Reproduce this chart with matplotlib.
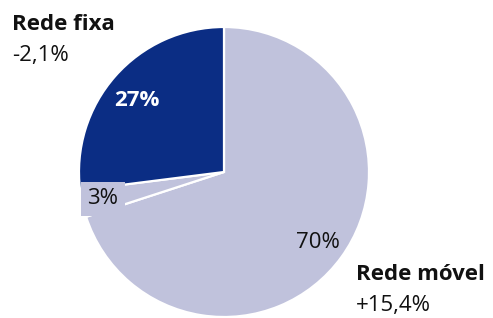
import matplotlib
matplotlib.use("Agg")
import matplotlib.pyplot as plt

shares = [70, 3, 27]
labels = ["70%", "3%", "27%"]
colors = ["#C0C2DC", "#C0C2DC", "#0B2D84"]
cat_fixa = ["Rede fixa", "-2,1%"]
cat_movel = ["Rede móvel", "+15,4%"]

plt.rcParams['font.family'] = ['Open Sans', 'DejaVu Sans']

fig = plt.figure(figsize=(4.93, 3.18), dpi=100)
ax = fig.add_axes([0, 0, 1, 1])
H = 318
cx, cy, r = 224, H - 172, 145
wedges, _ = ax.pie(shares, center=(cx, cy), radius=r, startangle=90,
                   counterclock=False, explode=[0, 0, 0.015], colors=colors,
                   wedgeprops=dict(edgecolor="white", linewidth=1.6))
ax.set_xlim(0, 493)
ax.set_ylim(0, H)
ax.set_aspect('auto')
ax.axis('off')

fs = 16
ax.text(318, H - 242, labels[0], fontsize=fs, color="#111111", ha="center", va="center")
ax.text(103, H - 199, labels[1], fontsize=fs, color="#111111", ha="center", va="center",
        bbox=dict(boxstyle="square,pad=0.3", facecolor=colors[1], edgecolor="none"))
ax.text(137, H - 100, labels[2], fontsize=fs, color="white", fontweight="bold",
        ha="center", va="center")

ax.text(12, H - 25, cat_fixa[0], fontsize=fs, fontweight="bold", color="#111111",
        ha="left", va="center")
ax.text(12, H - 55, cat_fixa[1], fontsize=fs, color="#111111", ha="left", va="center")
ax.text(356, H - 275, cat_movel[0], fontsize=fs, fontweight="bold", color="#111111",
        ha="left", va="center")
ax.text(356, H - 306, cat_movel[1], fontsize=fs, color="#111111", ha="left", va="center")

fig.savefig("out.png", dpi=100)
